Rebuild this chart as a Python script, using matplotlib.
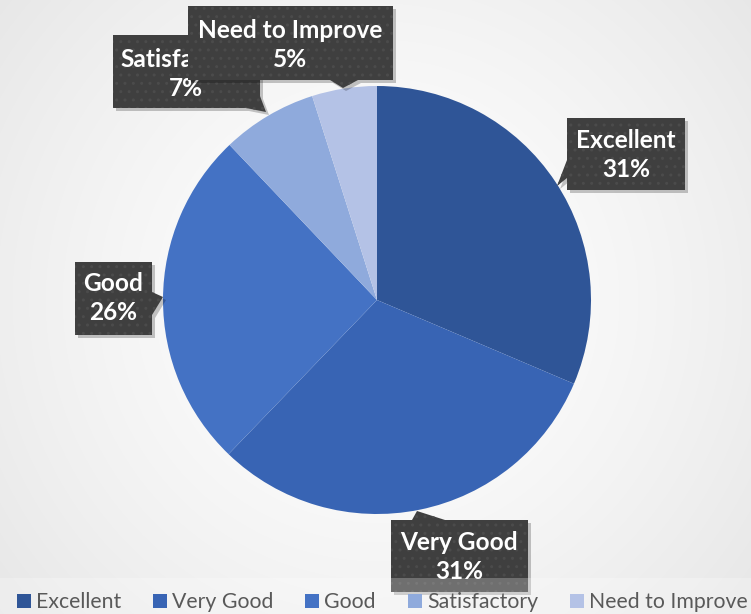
import numpy as np
import matplotlib.pyplot as plt
from matplotlib.patches import Polygon, Rectangle

# данные
categories = ["Excellent", "Very Good", "Good", "Satisfactory", "Need to Improve"]
values = [31.4, 30.8, 25.7, 7.2, 4.9]
colors = ["#2F5597", "#3864B4", "#4472C4", "#8FAADC", "#B4C2E6"]

W, H = 751, 614
fig = plt.figure(figsize=(W / 100, H / 100), dpi=100)
ax = fig.add_axes([0, 0, 1, 1])

# фон: светлый радиальный градиент
yy, xx = np.mgrid[0:H, 0:W]
d = np.hypot(xx - 377, yy - 300) / np.hypot(377, 314)
g = 1.0 - 0.095 * np.clip(d, 0, 1) ** 1.4
bg = np.dstack([g, g, g])
ax.imshow(bg, extent=[0, W, 0, H], origin="upper", zorder=0, aspect="auto")

# круговая диаграмма
cx, cy, r = 377, 300, 214
wedges, _ = ax.pie(values, colors=colors, startangle=90, counterclock=False,
                   center=(cx, H - cy), radius=r,
                   wedgeprops=dict(linewidth=0))
for w in wedges:
    w.set_zorder(2)


def callout(pts, z):
    pts = [(x, H - y) for x, y in pts]
    sh = [(x + 3, y - 3) for x, y in pts]
    ax.add_patch(Polygon(sh, closed=True, fc="black", ec="none", alpha=0.22, zorder=z))
    ax.add_patch(Polygon(pts, closed=True, fc="#3F3F3F", ec="none", zorder=z + 0.1))
    ax.add_patch(Polygon(pts, closed=True, fc="none", ec="#4B4B4B", lw=0,
                         hatch="..", zorder=z + 0.2))


pcts = [round(v / sum(values) * 100) for v in values]
labels = [f"{c}\n{p}%" for c, p in zip(categories, pcts)]

boxes = [
    ([(567, 118), (685, 118), (685, 190), (567, 190), (567, 178), (557, 186), (567, 160)],
     (626, 155)),
    ([(391, 520), (412, 520), (417, 511), (445, 520), (528, 520), (528, 592), (391, 592)],
     (459, 557)),
    ([(75, 262), (152, 262), (152, 292), (163, 297), (152, 315), (152, 335), (75, 335)],
     (113, 298)),
    ([(113, 35), (260, 35), (260, 96), (266, 112), (246, 108), (113, 108)],
     (186, 74)),
    ([(188, 6), (393, 6), (393, 80), (358, 80), (343, 88), (330, 80), (188, 80)],
     (290, 45)),
]

for i, (pts, (tx, ty)) in enumerate(boxes):
    z = 3 + i
    callout(pts, z)
    t = ax.text(tx, H - ty, labels[i], ha="center", va="center", color="white",
                fontsize=17.6, fontweight="bold", family="Lato", linespacing=1.3,
                zorder=z + 0.3)
    # обрезаем текст по своей рамке
    clip = Polygon([(x, H - y) for x, y in pts], closed=True, transform=ax.transData)
    t.set_clip_path(clip)

# полоса легенды поверх
ax.add_patch(Rectangle((0, 0), W, H - 578, fc="white", ec="none", alpha=0.25, zorder=9))

ax.set_xlim(0, W)
ax.set_ylim(0, H)
ax.set_aspect("auto")
ax.axis("off")

leg = fig.legend(wedges, categories, loc="lower center", ncol=5,
                 bbox_to_anchor=(0.509, -0.028), frameon=False,
                 handlelength=0.65, handleheight=0.65, handletextpad=0.25,
                 columnspacing=1.5, prop=dict(family="Lato", size=15.3))
for txt in leg.get_texts():
    txt.set_color("#595959")
leg.set_zorder(10)

fig.savefig("out.png", dpi=100)
